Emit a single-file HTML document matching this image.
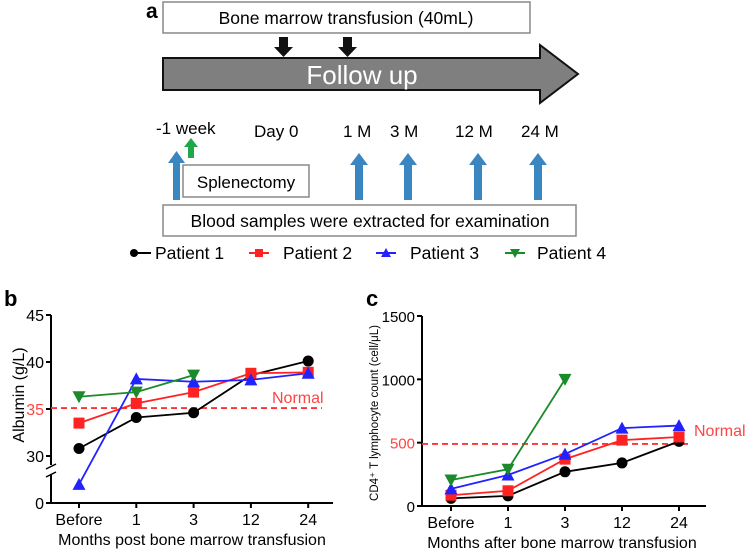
<!DOCTYPE html>
<html><head><meta charset="utf-8"><style>
body{margin:0;background:#fff;}
svg{display:block;font-family:"Liberation Sans",sans-serif;}
</style></head><body>
<svg width="746" height="554" viewBox="0 0 746 554">
<g>
<text x="146" y="18" font-size="21" font-weight="bold">a</text>
<rect x="163" y="2" width="367" height="31" fill="#fff" stroke="#888" stroke-width="1.5"/>
<text x="346" y="24" font-size="17.5" text-anchor="middle">Bone marrow transfusion (40mL)</text>
<polygon points="163,58 540,58 540,45 578,74 540,103 540,90 163,90" fill="#7f7f7f" stroke="#111" stroke-width="2"/>
<text x="362" y="84" font-size="26" fill="#fff" text-anchor="middle">Follow up</text>
<polygon points="279,37 288,37 288,47 293,47 283.5,57 274,47 279,47" fill="#111"/>
<polygon points="343,37 352,37 352,47 357,47 347.5,57 338,47 343,47" fill="#111"/>
<g font-size="17">
<text x="156" y="134">-1 week</text><text x="254" y="137">Day 0</text><text x="343" y="137">1 M</text><text x="390" y="137">3 M</text><text x="455" y="137">12 M</text><text x="521" y="137">24 M</text>
</g>
<g fill="#3a86c0">
<polygon points="173,200 180,200 180,163 185,163 176.5,151 168,163 173,163"/>
<polygon points="355,200 363,200 363,165 368,165 359,153 350,165 355,165"/>
<polygon points="404,200 412,200 412,165 417,165 408,153 399,165 404,165"/>
<polygon points="474,200 482,200 482,165 487,165 478,153 469,165 474,165"/>
<polygon points="534,200 542,200 542,165 547,165 538,153 529,165 534,165"/>
</g>
<polygon points="188,158 194,158 194,147 198,147 191,138 184,147 188,147" fill="#1fa84a"/>
<rect x="183" y="165" width="126" height="32" fill="#fff" stroke="#888" stroke-width="1.5"/>
<text x="246" y="188" font-size="17" text-anchor="middle">Splenectomy</text>
<rect x="163" y="205" width="413" height="31" fill="#fff" stroke="#888" stroke-width="1.5"/>
<text x="370" y="227" font-size="17.5" text-anchor="middle">Blood samples were extracted for examination</text>
</g>
<g id="legend"></g>
<g id="chartB"></g>
<g id="chartC"></g>
</svg>
<script>
const categories=["Before","1","3","12","24"];
const patients=["Patient 1","Patient 2","Patient 3","Patient 4"];
const colors=["#000","#f22","#22f","#1a8a2a"];
const shapes=["circle","square","tri","tridown"];
const albP1=[30.8,34.1,34.6,38.6,40.1];
const albP2=[33.5,35.6,36.8,38.8,38.9];
const albP3=[18,38.2,37.9,38.1,38.8];
const albP4=[36.3,36.8,38.6];
const albTicks=[0,30,35,40,45];
const albNormal=35.1;
const cdP1=[60,80,270,340,510];
const cdP2=[85,120,370,520,545];
const cdP3=[135,245,410,615,635];
const cdP4=[205,290,1000];
const cdTicks=[0,500,1000,1500];
const cdNormal=490;
const NS="http://www.w3.org/2000/svg";
function el(tag,attrs,parent,text){const e=document.createElementNS(NS,tag);for(const k in attrs)e.setAttribute(k,attrs[k]);if(text!==undefined)e.textContent=text;parent.appendChild(e);return e;}
function marker(g,shape,x,y,c,s){
 let m;
 if(shape==="circle")m=el("circle",{cx:x,cy:y,r:s},g);
 else if(shape==="square")m=el("rect",{x:x-s,y:y-s,width:2*s,height:2*s},g);
 else if(shape==="tri")m=el("polygon",{points:`${x},${y-s-1} ${x+s+1},${y+s} ${x-s-1},${y+s}`},g);
 else m=el("polygon",{points:`${x},${y+s+1} ${x+s+1},${y-s} ${x-s-1},${y-s}`},g);
 m.setAttribute("fill",c);
 
 
 return m;
}
(function(){
 const g=document.getElementById("legend");
 const lx=[131,249,376,505], tx=[155,283,410,537];
 patients.forEach((p,i)=>{
  const ln=el("line",{x1:lx[i],y1:253,x2:lx[i]+20,y2:253,stroke:colors[i],"stroke-width":2},g);
  
  
  marker(g,shapes[i],lx[i]+(i===0?3:10),253,colors[i],4);
  const t=el("text",{x:tx[i],y:259,"font-size":17.5},g,p);
  
  
 });
})();
function drawChart(g,o){
 const xs=i=>o.x0+o.xStart+i*o.xStep;
 el("line",{x1:o.x0,y1:o.yTop,x2:o.x0,y2:o.y0,stroke:"#000","stroke-width":2},g);
 el("line",{x1:o.x0,y1:o.y0,x2:o.x1,y2:o.y0,stroke:"#000","stroke-width":2},g);
 o.ticks.forEach(v=>{
  const y=o.ys(v);
  el("line",{x1:o.x0-5,y1:y,x2:o.x0,y2:y,stroke:"#000","stroke-width":2},g);
  const t=el("text",{x:o.x0-7,y:y+6,"font-size":o.tickFont,"text-anchor":"end",fill:v===o.redTick?"#f44":"#000"},g,v);
  
  
 });
 categories.forEach((c,i)=>{
  el("line",{x1:xs(i),y1:o.y0,x2:xs(i),y2:o.y0+5,stroke:"#000","stroke-width":2},g);
  const t=el("text",{x:xs(i),y:o.y0+22,"font-size":16,"text-anchor":"middle"},g,c);
  
  
 });
 const ny=o.ys(o.normal);
 const nl=el("line",{x1:o.x0,y1:ny,x2:o.nEnd,y2:ny,stroke:"#f33","stroke-width":1.8,"stroke-dasharray":"6,4"},g);
 
 
 const nt=el("text",{x:o.nTextX,y:o.nTextY,"font-size":16,fill:"#f44"},g,"Normal");
 
 
 o.series.forEach((s,k)=>{
  const pts=s.map((v,i)=>xs(i)+","+o.ys(v)).join(" ");
  const pl=el("polyline",{points:pts,fill:"none",stroke:colors[k],"stroke-width":1.8},g);
  
  
 });
 o.series.forEach((s,k)=>s.forEach((v,i)=>marker(g,shapes[k],xs(i),o.ys(v),colors[k],5.5)));
 const xt=el("text",{x:o.xTitleX,y:o.y0+42,"font-size":16,"text-anchor":"middle"},g,o.xTitle);
 
 
 const yt=el("text",{x:0,y:0,"font-size":o.yFont,"text-anchor":"middle",transform:`translate(${o.yTitleX},${o.yTitleY}) rotate(-90)`},g,o.yTitle);
 
 
 const pl=el("text",{x:o.plX,y:306,"font-size":22,"font-weight":"bold"},g,o.panel);
 
 
}
const gB=document.getElementById("chartB");
drawChart(gB,{x0:51,x1:333,y0:503,yTop:315,xStart:28,xStep:57.3,
 ys:v=>v>=30?456-(v-30)*9.4:503-v*(31/30),
 ticks:albTicks,tickFont:16,redTick:35,normal:albNormal,nEnd:322,nTextX:272,nTextY:403,
 series:[albP1,albP2,albP3,albP4],xTitle:"Months post bone marrow transfusion",xTitleX:192,
 yTitle:"Albumin (g/L)",yTitleX:24,yTitleY:395,yFont:16,panel:"b",plX:4});
el("rect",{x:44,y:465,width:14,height:10,fill:"#fff"},gB);
el("line",{x1:46,y1:469,x2:56,y2:464,stroke:"#000","stroke-width":1.5},gB);
el("line",{x1:46,y1:477,x2:56,y2:472,stroke:"#000","stroke-width":1.5},gB);
drawChart(document.getElementById("chartC"),{x0:422,x1:706,y0:506,yTop:316,xStart:29,xStep:57,
 ys:v=>506-v*(190/1500),
 ticks:cdTicks,tickFont:15,redTick:500,normal:cdNormal,nEnd:690,nTextX:694,nTextY:436,
 series:[cdP1,cdP2,cdP3,cdP4],xTitle:"Months after bone marrow transfusion",xTitleX:562,
 yTitle:"CD4⁺ T lymphocyte count (cell/μL)",yTitleX:378,yTitleY:413,yFont:11.5,panel:"c",plX:366});
</script>
</body></html>
